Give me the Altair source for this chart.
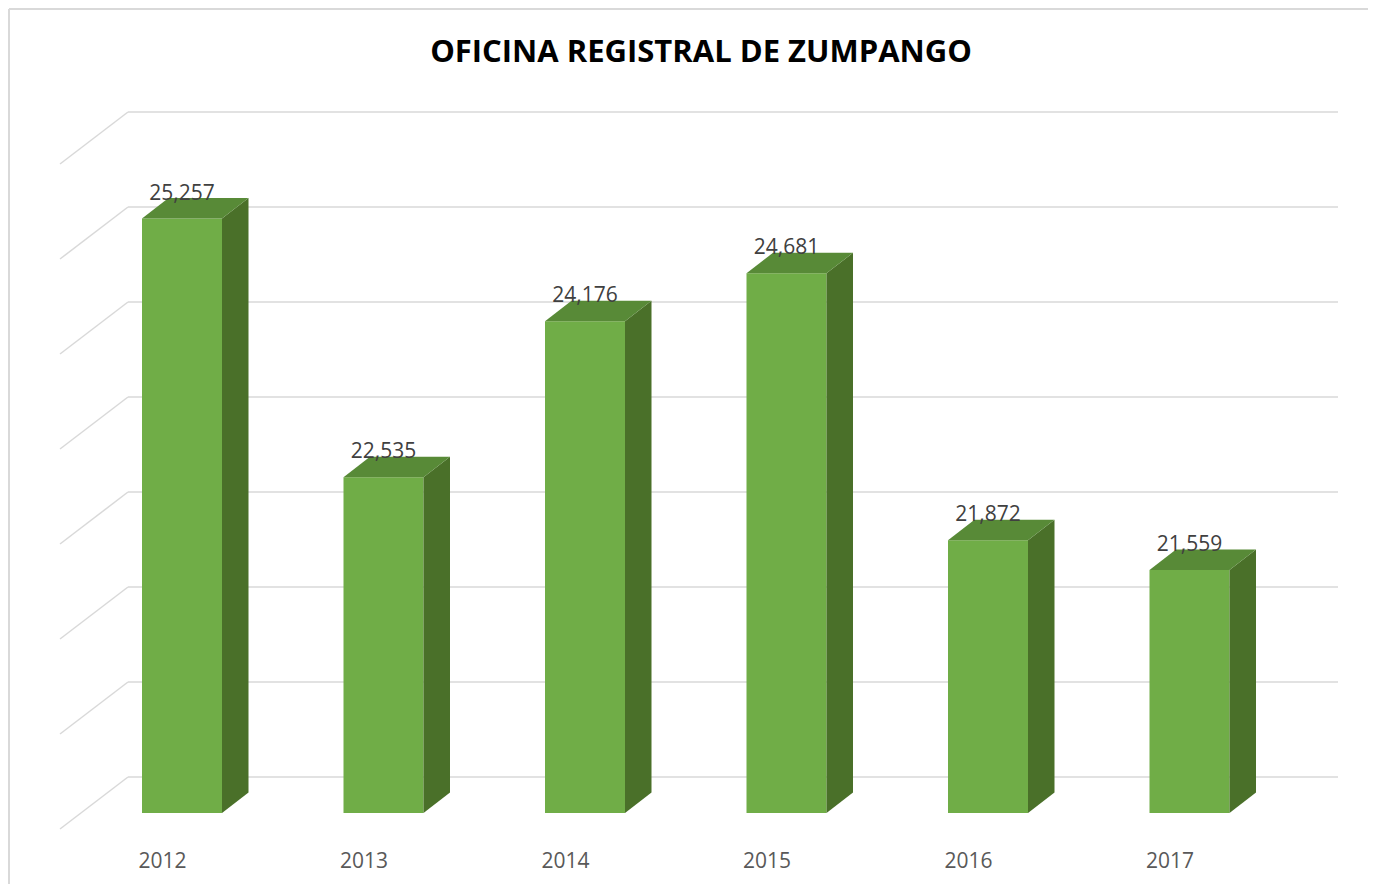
import altair as alt
import pandas as pd

title_text = "OFICINA REGISTRAL DE ZUMPANGO"
years = ["2012", "2013", "2014", "2015", "2016", "2017"]
values = [25257, 22535, 24176, 24681, 21872, 21559]
grid_values = [19000, 20000, 21000, 22000, 23000, 24000, 25000, 26000]

Y_MIN, Y_MAX = 19000, 26000
PX_PER_UNIT = 0.095          # pixels per value unit on the bar plane
HALF = 40 / 201.5            # half bar width, category units
DX = 26.5 / 201.5            # depth, category units
DY = 20.5 / PX_PER_UNIT      # depth, value units
BACK = 36 / PX_PER_UNIT      # back wall above bar plane
FRONT = 16 / PX_PER_UNIT     # front floor below bar plane

idx = list(range(len(years)))
bars = pd.DataFrame({"u": idx, "year": years, "value": values})
bars["x0"] = bars["u"] - HALF
bars["x1"] = bars["u"] + HALF
bars["base"] = Y_MIN

side_rows, top_rows = [], []
for u, yr, v in zip(idx, years, values):
    side_rows.append({"year": yr, "x": u + HALF, "y": v, "y2": Y_MIN})
    side_rows.append({"year": yr, "x": u + HALF + DX, "y": v + DY, "y2": Y_MIN + DY})
    top_rows.append({"year": yr, "y": v, "x": u - HALF, "x2": u + HALF})
    top_rows.append({"year": yr, "y": v + DY, "x": u - HALF + DX, "x2": u + HALF + DX})
side = pd.DataFrame(side_rows)
top = pd.DataFrame(top_rows)

grid = pd.DataFrame({"v": grid_values})
grid["vb"] = grid["v"] + BACK
grid["vf"] = grid["v"] - FRONT

xscale = alt.Scale(domain=[0, 5], range=[174, 1181.5], nice=False, zero=False)
yscale = alt.Scale(domain=[Y_MIN, Y_MAX], range=[713, 48], nice=False, zero=False)

label_expr = "[" + ",".join(f"'{y}'" for y in years) + "][datum.value]"

back_lines = alt.Chart(grid).mark_rule(color="#d9d9d9", strokeWidth=1.5, yOffset=-36).encode(
    x=alt.value(120), x2=alt.value(1330),
    y=alt.Y("v:Q", scale=yscale, axis=None),
)
diag_lines = alt.Chart(grid).mark_rule(color="#d9d9d9", strokeWidth=1.5).encode(
    x=alt.value(120), x2=alt.value(52),
    y=alt.Y("vb:Q", scale=yscale, axis=None), y2="vf:Q",
)

front = alt.Chart(bars).mark_rect(color="#70ad47").encode(
    x=alt.X("x0:Q", scale=xscale,
            axis=alt.Axis(values=idx, labelExpr=label_expr, title=None, grid=False,
                          domain=False, ticks=False, labelOffset=-20, labelPadding=21,
                          labelFlush=False, labelOverlap=False, labelBound=False,
                          labelFont="Open Sans", labelFontSize=21, labelColor="#595959")),
    x2="x1:Q",
    y=alt.Y("value:Q", scale=yscale, axis=None), y2="base:Q",
)
side_face = alt.Chart(side).mark_area(color="#4a7029", orient="vertical").encode(
    x=alt.X("x:Q", scale=xscale), y=alt.Y("y:Q", scale=yscale), y2="y2:Q",
    detail="year:N",
)
top_face = alt.Chart(top).mark_area(color="#588a37", orient="horizontal").encode(
    y=alt.Y("y:Q", scale=yscale), x=alt.X("x:Q", scale=xscale), x2="x2:Q",
    detail="year:N",
)
labels = alt.Chart(bars).mark_text(font="Open Sans", fontSize=21, color="#404040",
                                   baseline="alphabetic", dy=-19).encode(
    x=alt.X("u:Q", scale=xscale), y=alt.Y("value:Q", scale=yscale),
    text=alt.Text("value:Q", format=","),
)
title_df = pd.DataFrame({"t": [title_text]})
title_mark = alt.Chart(title_df).mark_text(font="Open Sans", fontSize=31, fontWeight="bold",
                                           color="#000000", baseline="alphabetic",
                                           align="center").encode(
    x=alt.value(693), y=alt.value(-38), text="t:N",
)
border_top = alt.Chart(grid.head(1)).mark_rule(color="#d9d9d9", strokeWidth=2).encode(
    x=alt.value(1), x2=alt.value(1360), y=alt.value(-91),
)
border_left = alt.Chart(grid.head(1)).mark_rule(color="#d9d9d9", strokeWidth=2).encode(
    x=alt.value(1), y=alt.value(-91), y2=alt.value(790),
)

chart = alt.layer(border_top, border_left, back_lines, diag_lines, front, side_face,
                  top_face, labels, title_mark).properties(
    width=1360, height=729,
    autosize=alt.AutoSizeParams(type="none"),
    padding={"left": 0, "top": 92, "right": 0, "bottom": 55},
    background="white",
).configure_view(stroke=None)

chart.save("out.html", embed_options={"renderer": "svg", "actions": False})
